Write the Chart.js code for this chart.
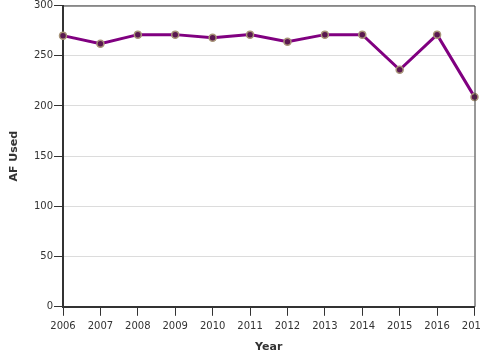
<!DOCTYPE html>
<html>
<head>
<meta charset="utf-8">
<script src="https://cdn.jsdelivr.net/npm/chart.js@4/dist/chart.umd.min.js"></script>
<style>
html,body{margin:0;padding:0;background:#fff;overflow:hidden;}
#wrap{width:480px;height:360px;position:relative;}
</style>
</head>
<body>
<div id="wrap"><canvas id="c" width="480" height="360"></canvas></div>
<script>
const years = ['2006','2007','2008','2009','2010','2011','2012','2013','2014','2015','2016','2017'];
const afUsed = [270, 262, 271, 271, 268, 271, 264, 271, 271, 236, 271, 209];
const yTicks = [0, 50, 100, 150, 200, 250, 300];

const frame = {
  id: 'frame',
  afterDraw(chart) {
    const a = chart.chartArea, ctx = chart.ctx;
    ctx.save();
    ctx.strokeStyle = '#333';
    ctx.lineWidth = 1;
    ctx.beginPath();
    ctx.moveTo(a.left, a.top + 0.5);
    ctx.lineTo(a.right + 0.5, a.top + 0.5);
    ctx.lineTo(a.right + 0.5, a.bottom);
    ctx.stroke();
    ctx.restore();
  }
};

Chart.defaults.font.family = 'DejaVu Sans';
Chart.defaults.color = '#333';

new Chart(document.getElementById('c'), {
  type: 'line',
  data: {
    labels: years,
    datasets: [{
      data: afUsed,
      borderColor: '#800080',
      borderWidth: 3,
      pointRadius: 3.5,
      pointBackgroundColor: '#5a1850',
      pointBorderColor: '#a89478',
      pointBorderWidth: 1.5,
      tension: 0,
      fill: false
    }]
  },
  options: {
    responsive: false,
    animation: false,
    layout: { padding: { top: 0, right: 0, bottom: 6, left: 6 } },
    plugins: { legend: { display: false }, tooltip: { enabled: false } },
    scales: {
      x: {
        offset: false,
        grid: { drawOnChartArea: false, tickColor: '#333', tickLength: 9, tickWidth: 1 },
        border: { color: '#333', width: 2 },
        ticks: { font: { size: 10 }, color: '#333', padding: 5, maxRotation: 0, autoSkip: false },
        title: { display: true, text: 'Year', font: { size: 11, weight: 'bold' }, color: '#333', padding: { top: 3, bottom: 0 } },
        afterFit(scale) { scale.paddingRight = 5; scale.paddingLeft = 0; }
      },
      y: {
        min: 0, max: 300,
        afterBuildTicks(scale) { scale.ticks = yTicks.map(v => ({ value: v })); },
        grid: { color: '#dcdcdc', tickColor: '#333', tickLength: 9, lineWidth: 1 },
        border: { color: '#333', width: 2 },
        ticks: { font: { size: 10 }, color: '#333', padding: 1 },
        title: { display: true, text: 'AF Used', font: { size: 11, weight: 'bold' }, color: '#333', padding: { top: 2, bottom: 6 } },
        afterFit(scale) { scale.width = 57; scale.paddingTop = 4; }
      }
    }
  },
  plugins: [frame]
});
</script>
</body>
</html>
